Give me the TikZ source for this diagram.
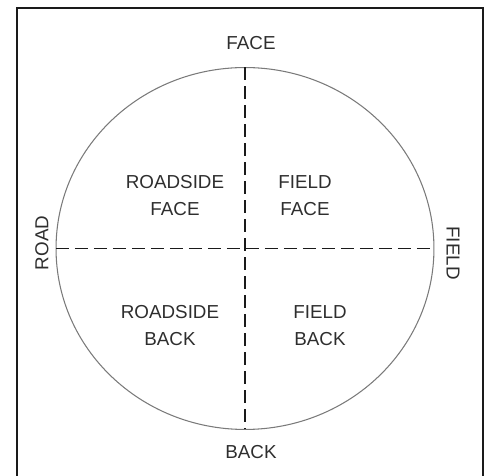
\documentclass[tikz,border=0pt]{standalone}
\usepackage{fontspec}
\setmainfont{Liberation Sans}
\usetikzlibrary{positioning,calc}
\definecolor{ink}{HTML}{1A1A1A}
\definecolor{rim}{HTML}{7A7A7A}
\definecolor{txt}{HTML}{2E2E2E}
\tikzset{
  lbl/.style ={font=\fontsize{10.7}{15.4}\selectfont,text=txt,inner sep=0pt,align=center},
  frm/.style ={draw=ink,line width=1.1pt},
  rimln/.style={draw=rim,line width=.6pt},
  axs/.style ={draw=ink,line width=.8pt,dash pattern=on 2.6mm off 1.2mm},
}

\begin{document}
\begin{tikzpicture}[x=0.02cm,y=-0.02cm]
\useasboundingbox (0,0) rectangle (485,476);
% ===== frame =====
\draw[frm] (17,476) -- (17,8) -- (483,8) -- (483,476);

% ===== orientation circle =====
\coordinate (c) at (245,248.5);
\draw[rimln] (c) ellipse [x radius=3.78cm, y radius=3.62cm];
\coordinate (top) at ($(c)+(0,-181)$);
\coordinate (bot) at ($(c)+(0,181)$);
\coordinate (lft) at ($(c)+(-189,0)$);
\coordinate (rgt) at ($(c)+(189,0)$);
\draw[axs] (top) -- (bot);
\draw[axs] (lft) -- (rgt);

% ===== outer labels =====
\node[lbl] (face) at (251,43) {FACE};
\node[lbl] (back) at (251,452) {BACK};
\node[lbl,rotate=90] (road) at (42,243) {ROAD};
\node[lbl,rotate=-90] (field) at (453,253) {FIELD};

% ===== quadrants =====
\node[lbl] (rsf) at (175,195.5) {ROADSIDE\\FACE};
\node[lbl] (ff) at (305,195.5) {FIELD\\FACE};
\node[lbl] (rsb) at (170,326) {ROADSIDE\\BACK};
\node[lbl] (fb) at (320,326) {FIELD\\BACK};
\end{tikzpicture}
\end{document}
